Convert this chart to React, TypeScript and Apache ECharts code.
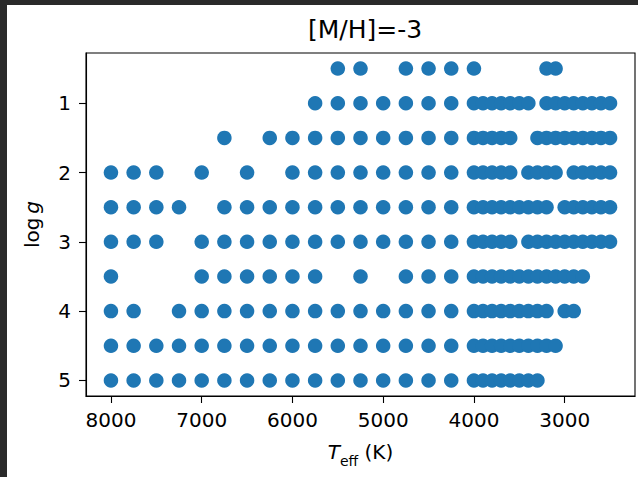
import React, { useEffect, useRef } from "react";
import * as echarts from "echarts";

const FONT = "DejaVu Sans";
const DOT = "#1f77b4";

const titleText = "[M/H]=-3";
const xTicks = [3000, 4000, 5000, 6000, 7000, 8000];
const yTicks = [1, 2, 3, 4, 5];

// Teff values (K) present in each log g row
const logg05 = [5500, 5250, 4750, 4500, 4250, 4000, 3200, 3100];
const logg10 = [5750, 5500, 5250, 5000, 4750, 4500, 4250, 4000, 3900, 3800, 3700, 3600, 3500, 3400, 3200, 3100, 3000, 2900, 2800, 2700, 2600, 2500];
const logg15 = [6750, 6250, 6000, 5750, 5500, 5250, 5000, 4750, 4500, 4250, 4000, 3900, 3800, 3700, 3600, 3300, 3200, 3100, 3000, 2900, 2800, 2700, 2600, 2500];
const logg20 = [8000, 7750, 7500, 7000, 6500, 6000, 5750, 5500, 5250, 5000, 4750, 4500, 4250, 4000, 3900, 3800, 3700, 3600, 3400, 3300, 3200, 3100, 2900, 2800, 2700, 2600, 2500];
const logg25 = [8000, 7750, 7500, 7250, 6750, 6500, 6250, 6000, 5750, 5500, 5250, 5000, 4750, 4500, 4250, 4000, 3900, 3800, 3700, 3600, 3500, 3400, 3300, 3200, 3000, 2900, 2800, 2700, 2600, 2500];
const logg30 = [8000, 7750, 7500, 7000, 6750, 6500, 6250, 6000, 5750, 5500, 5250, 5000, 4750, 4500, 4250, 4000, 3900, 3800, 3700, 3600, 3400, 3300, 3200, 3100, 3000, 2900, 2800, 2700, 2600, 2500];
const logg35 = [8000, 7000, 6750, 6500, 6250, 6000, 5750, 5250, 4750, 4500, 4250, 4000, 3900, 3800, 3700, 3600, 3500, 3400, 3300, 3200, 3100, 3000, 2900, 2800];
const logg40 = [8000, 7750, 7250, 7000, 6750, 6500, 6250, 6000, 5750, 5500, 5250, 5000, 4750, 4500, 4250, 4000, 3900, 3800, 3700, 3600, 3500, 3400, 3300, 3200, 3000, 2900];
const logg45 = [8000, 7750, 7500, 7250, 7000, 6750, 6500, 6250, 6000, 5750, 5500, 5250, 5000, 4750, 4500, 4250, 4000, 3900, 3800, 3700, 3600, 3500, 3400, 3300, 3200, 3100];
const logg50 = [8000, 7750, 7500, 7250, 7000, 6750, 6500, 6250, 6000, 5750, 5500, 5250, 5000, 4750, 4500, 4250, 4000, 3900, 3800, 3700, 3600, 3500, 3400, 3300];

const rows: [number, number[]][] = [
  [0.5, logg05],
  [1.0, logg10],
  [1.5, logg15],
  [2.0, logg20],
  [2.5, logg25],
  [3.0, logg30],
  [3.5, logg35],
  [4.0, logg40],
  [4.5, logg45],
  [5.0, logg50],
];

export default function App() {
  const ref = useRef<HTMLDivElement>(null);
  useEffect(() => {
    if (!ref.current) return;
    const chart = echarts.init(ref.current, null, { renderer: "svg" });
    const data: number[][] = [];
    rows.forEach(([g, teffs]) => teffs.forEach((t) => data.push([t, g])));
    chart.setOption({
      animation: false,
      backgroundColor: "#ffffff",
      textStyle: { fontFamily: FONT },
      title: {
        text: titleText,
        left: 360,
        textAlign: "center",
        top: 12,
        textStyle: { fontFamily: FONT, fontSize: 25, fontWeight: "normal", color: "#000" },
      },
      graphic: [
        { type: "rect", z: 100, shape: { x: 0, y: 0, width: 638, height: 5 }, style: { fill: "#2a2a2a" } },
        { type: "rect", z: 100, shape: { x: 0, y: 0, width: 7, height: 477 }, style: { fill: "#2a2a2a" } },
      ],
      grid: {
        left: 86,
        right: 3,
        top: 53,
        bottom: 81,
        show: true,
        borderColor: "#000",
        borderWidth: 1.1,
        backgroundColor: "#fff",
      },
      xAxis: {
        type: "value",
        inverse: true,
        min: 2225,
        max: 8275,
        splitLine: { show: false },
        axisLine: { show: true, lineStyle: { color: "#000", width: 1.1 } },
        axisTick: { show: true, length: 7, lineStyle: { color: "#000", width: 1.1 }, customValues: xTicks },
        axisLabel: {
          customValues: xTicks,
          fontSize: 20,
          color: "#000",
          margin: 14,
          fontFamily: FONT,
          formatter: (v: number) => String(v),
        },
        name: "{i|T}{s|eff}{n| (K)}",
        nameLocation: "middle",
        nameGap: 46,
        nameTextStyle: {
          color: "#000",
          rich: {
            i: { fontFamily: FONT, fontStyle: "italic", fontSize: 20, color: "#000", verticalAlign: "top", lineHeight: 24 },
            s: { fontFamily: FONT, fontSize: 14, color: "#000", verticalAlign: "top", lineHeight: 14, padding: [12, 0, 0, 0] },
            n: { fontFamily: FONT, fontSize: 20, color: "#000", verticalAlign: "top", lineHeight: 24 },
          },
        },
      },
      yAxis: {
        type: "value",
        inverse: true,
        min: 0.275,
        max: 5.225,
        splitLine: { show: false },
        axisLine: { show: true, lineStyle: { color: "#000", width: 1.1 } },
        axisTick: { show: true, length: 7, lineStyle: { color: "#000", width: 1.1 }, customValues: yTicks },
        axisLabel: { customValues: yTicks, fontSize: 20, color: "#000", margin: 15, fontFamily: FONT },
        name: "{n|log\u2009}{i|g}",
        nameLocation: "middle",
        nameRotate: 90,
        nameGap: 44,
        nameTextStyle: {
          color: "#000",
          rich: {
            n: { fontFamily: FONT, fontSize: 20, color: "#000" },
            i: { fontFamily: FONT, fontStyle: "italic", fontSize: 20, color: "#000" },
          },
        },
      },
      series: [
        {
          type: "scatter",
          data,
          symbol: "circle",
          symbolSize: 14.5,
          itemStyle: { color: DOT, opacity: 1 },
          emphasis: { disabled: true },
        },
      ],
    });
    return () => chart.dispose();
  }, []);
  return (
    <div
      ref={ref}
      style={{ position: "fixed", left: 0, top: 0, width: 638, height: 477 }}
    />
  );
}
